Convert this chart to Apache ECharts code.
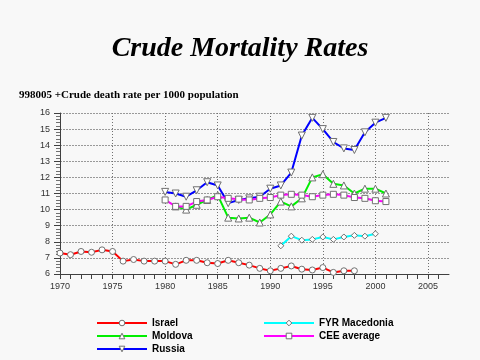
<!DOCTYPE html>
<html><head><meta charset="utf-8">
<script src="https://cdn.jsdelivr.net/npm/echarts@6/dist/echarts.min.js"></script>
<style>html,body{margin:0;padding:0;background:#f8f8f8}#c{width:480px;height:360px}</style>
</head><body><div id="c"></div>
<script>
// ---- data ----
const titleText = 'Crude Mortality Rates';
const subtitleText = '998005 +Crude death rate per 1000 population';
const seriesNames = ['Israel', 'Moldova', 'Russia', 'FYR Macedonia', 'CEE average'];

const israelStart = 1970;
const israel = [7.3, 7.2, 7.4, 7.35, 7.5, 7.4, 6.8, 6.9, 6.8, 6.8, 6.8, 6.6, 6.85, 6.85, 6.7, 6.65, 6.85, 6.7, 6.55, 6.35, 6.2, 6.35, 6.5, 6.3, 6.25, 6.4, 6.1, 6.2, 6.2];

const moldovaStart = 1981;
const moldova = [10.2, 10.0, 10.3, 10.6, 10.9, 9.5, 9.45, 9.5, 9.2, 9.7, 10.5, 10.2, 10.7, 12.0, 12.2, 11.6, 11.5, 11.0, 11.3, 11.3, 11.0];

const russiaStart = 1980;
const russia = [11.1, 11.0, 10.8, 11.2, 11.7, 11.5, 10.4, 10.6, 10.7, 10.8, 11.3, 11.5, 12.3, 14.6, 15.7, 15.0, 14.2, 13.8, 13.7, 14.8, 15.4, 15.7];

const macedoniaStart = 1991;
const macedonia = [7.75, 8.35, 8.1, 8.15, 8.3, 8.15, 8.3, 8.4, 8.35, 8.5];

const ceeStart = 1980;
const cee = [10.6, 10.2, 10.2, 10.5, 10.6, 10.8, 10.7, 10.65, 10.6, 10.7, 10.75, 10.9, 10.95, 10.9, 10.8, 10.9, 10.95, 10.9, 10.75, 10.7, 10.55, 10.5];

const xMin = 1970, xMax = 2007, xLabelStep = 5;
const yMin = 6, yMax = 16, yStep = 1;

// ---- build ----
function pairs(start, vals) { return vals.map((v, i) => [start + i, v]); }
const colors = ['#ff0000', '#00ee00', '#0000ff', '#00ffff', '#ff00ff'];
const symbols = ['circle', 'triangle', 'triangle', 'diamond', 'rect'];
const rotates = [0, 0, 180, 0, 0];
const datas = [pairs(israelStart, israel), pairs(moldovaStart, moldova), pairs(russiaStart, russia), pairs(macedoniaStart, macedonia), pairs(ceeStart, cee)];
const sizes = [6, 7, 7, 6, 6];

const series = seriesNames.map((n, i) => ({
  name: n, type: 'line', data: datas[i], xAxisIndex: 0,
  symbol: symbols[i], symbolRotate: rotates[i], symbolSize: sizes[i],
  showAllSymbol: true,
  lineStyle: { color: colors[i], width: 2 },
  itemStyle: { color: '#ffffff', borderColor: '#707070', borderWidth: 1 },
  emphasis: { disabled: true },
  z: 2 + i
}));

const legendText = { fontFamily: 'Liberation Sans', fontWeight: 'bold', fontSize: 10, color: '#000', lineHeight: 10 };
const legendCommon = { orient: 'vertical', top: 318, height: 42, padding: 0, itemWidth: 50, itemHeight: 7, itemGap: 3,
  textStyle: legendText, selectedMode: false,
  itemStyle: { color: '#fff', borderColor: '#707070', borderWidth: 1 } };
const chart = echarts.init(document.getElementById('c'), null, { renderer: 'canvas' });
chart.setOption({
  backgroundColor: '#f8f8f8',
  animation: false,
  title: [
    { text: titleText, left: 'center', top: 30,
      textStyle: { fontFamily: 'Liberation Serif', fontStyle: 'italic', fontWeight: 'bold', fontSize: 28, color: '#000',
        textShadowColor: '#b0b0b0', textShadowOffsetX: 2, textShadowOffsetY: 2, textShadowBlur: 0 } },
    { text: subtitleText, left: 14, top: 85,
      textStyle: { fontFamily: 'Liberation Serif', fontWeight: 'bold', fontSize: 11, color: '#000' } }
  ],
  legend: [
    Object.assign({ data: seriesNames.slice(0, 3), left: 96 }, legendCommon),
    Object.assign({ data: seriesNames.slice(3), left: 263 }, legendCommon)
  ],
  grid: { left: 60, right: 31, top: 113, bottom: 86, containLabel: false },
  xAxis: [
    { type: 'value', min: xMin, max: xMax, interval: 1,
      axisLine: { show: true, onZero: false, lineStyle: { color: '#404040', width: 1 } },
      axisTick: { show: true, length: 5, lineStyle: { color: '#404040' } },
      axisLabel: { margin: 8, fontFamily: 'Liberation Sans', fontSize: 9, color: '#333',
        showMaxLabel: false,
        formatter: v => (v % xLabelStep === 0 ? String(v) : '') },
      splitLine: { show: false } },
    { type: 'value', min: xMin, max: xMax, interval: xLabelStep, position: 'bottom',
      axisLine: { show: false }, axisTick: { show: false }, axisLabel: { show: false },
      splitLine: { show: true, showMinLine: false, showMaxLine: false, lineStyle: { color: '#707070', type: [1, 2], width: 1 } } }
  ],
  yAxis: {
    type: 'value', min: yMin, max: yMax, interval: yStep,
    axisLine: { show: true, lineStyle: { color: '#404040', width: 1 } },
    axisTick: { show: true, length: 6, lineStyle: { color: '#404040' } },
    minorTick: { show: true, splitNumber: 5, length: 4, lineStyle: { color: '#707070' } },
    axisLabel: { margin: 10, fontFamily: 'Liberation Sans', fontSize: 9, color: '#333' },
    splitLine: { show: true, showMinLine: false, lineStyle: { color: '#999', type: [2, 1], width: 1 } }
  },
  series: series
});
</script></body></html>
